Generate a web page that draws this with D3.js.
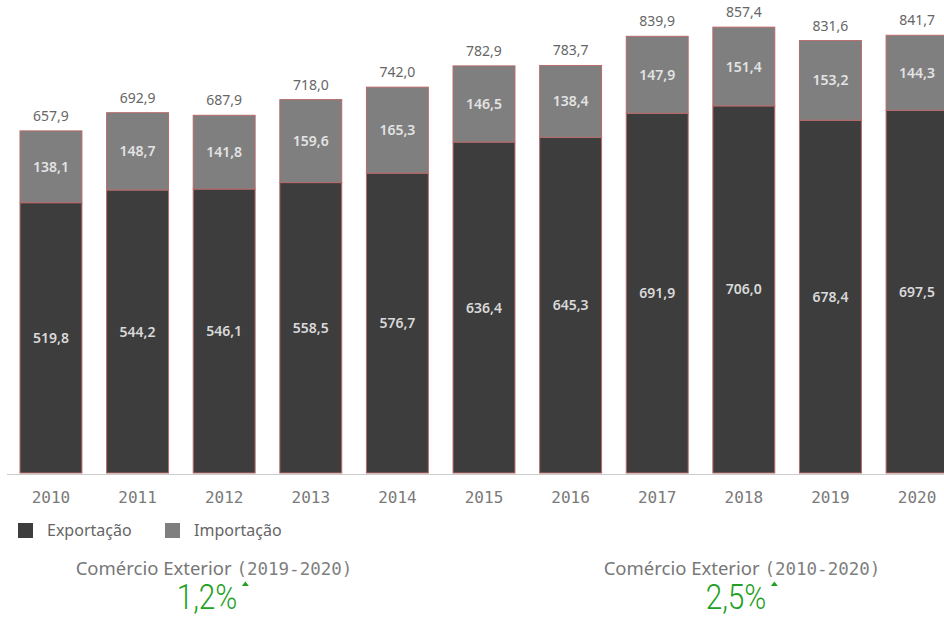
<!DOCTYPE html>
<html>
<head>
<meta charset="utf-8">
<script src="https://cdn.jsdelivr.net/npm/d3@7"></script>
<style>
  body { margin: 0; background: #fff; }
  svg { display: block; font-family: "Noto Sans", sans-serif; }
</style>
</head>
<body>
<svg id="chart" width="944" height="618"></svg>
<script>
// data
var years = ["2010", "2011", "2012", "2013", "2014", "2015", "2016", "2017", "2018", "2019", "2020"];
var exportacao = [519.8, 544.2, 546.1, 558.5, 576.7, 636.4, 645.3, 691.9, 706.0, 678.4, 697.5];
var importacao = [138.1, 148.7, 141.8, 159.6, 165.3, 146.5, 138.4, 147.9, 151.4, 153.2, 144.3];
var totals = [657.9, 692.9, 687.9, 718.0, 742.0, 782.9, 783.7, 839.9, 857.4, 831.6, 841.7];
var seriesNames = ["Exportação", "Importação"];
var seriesColors = ["#3d3d3d", "#7f7f7f"];
var kpiTitles = ["Comércio Exterior", "Comércio Exterior"];
var kpiPeriods = ["(2019-2020)", "(2010-2020)"];
var kpiValues = ["1,2%", "2,5%"];

var fmt = function(v) { return d3.format(".1f")(v).replace(".", ","); };
var mono = "'DejaVu Sans Mono', monospace";

var svg = d3.select("#chart");

var x = d3.scaleBand()
	.domain(years)
	.range([7, 961])
	.paddingInner(0.285)
	.paddingOuter(0.15);

var y = d3.scaleLinear()
	.domain([0, 900])
	.range([473, 5]);

var rows = years.map(function(yr, i) {
	return { year: yr, exp: exportacao[i], imp: importacao[i], total: totals[i] };
});

var g = svg.append("g");

// export segments
g.selectAll(".exp")
	.data(rows)
	.enter().append("rect")
	.attr("class", "exp")
	.attr("x", function(d) { return x(d.year); })
	.attr("width", x.bandwidth())
	.attr("y", function(d) { return y(d.exp); })
	.attr("height", function(d) { return y(0) - y(d.exp); })
	.attr("fill", seriesColors[0])
	.attr("stroke", "#b86a6a")
	.attr("stroke-width", 1);

// import segments
g.selectAll(".imp")
	.data(rows)
	.enter().append("rect")
	.attr("class", "imp")
	.attr("x", function(d) { return x(d.year); })
	.attr("width", x.bandwidth())
	.attr("y", function(d) { return y(d.exp + d.imp); })
	.attr("height", function(d) { return y(d.exp) - y(d.exp + d.imp); })
	.attr("fill", seriesColors[1])
	.attr("stroke", "#b86a6a")
	.attr("stroke-width", 1);

// labels inside
g.selectAll(".expLabel")
	.data(rows)
	.enter().append("text")
	.attr("x", function(d) { return x(d.year) + x.bandwidth() / 2; })
	.attr("y", function(d) { return (y(0) + y(d.exp)) / 2 + 5; })
	.attr("text-anchor", "middle")
	.attr("fill", "#d9d9d9")
	.attr("font-size", 14)
	.attr("font-weight", 600)
	.text(function(d) { return fmt(d.exp); });

g.selectAll(".impLabel")
	.data(rows)
	.enter().append("text")
	.attr("x", function(d) { return x(d.year) + x.bandwidth() / 2; })
	.attr("y", function(d) { return (y(d.exp) + y(d.exp + d.imp)) / 2 + 5; })
	.attr("text-anchor", "middle")
	.attr("fill", "#e3e3e3")
	.attr("font-size", 14)
	.attr("font-weight", 600)
	.text(function(d) { return fmt(d.imp); });

g.selectAll(".totLabel")
	.data(rows)
	.enter().append("text")
	.attr("x", function(d) { return x(d.year) + x.bandwidth() / 2; })
	.attr("y", function(d) { return y(d.total) - 10; })
	.attr("text-anchor", "middle")
	.attr("fill", "#666")
	.attr("font-size", 14)
	.text(function(d) { return fmt(d.total); });

// x axis
var xAxis = svg.append("g")
	.attr("transform", "translate(0," + 474 + ")")
	.call(d3.axisBottom(x).tickSize(0).tickPadding(18));
xAxis.select(".domain").attr("stroke", "#cccccc").attr("d", "M7,0.5H944");
xAxis.selectAll("text")
	.attr("fill", "#7a7a7a")
	.attr("font-size", 16)
	.attr("font-family", mono);

// legend
var legX = [18, 165];
seriesNames.forEach(function(name, i) {
	var item = svg.append("g").attr("transform", "translate(" + legX[i] + ",523)");
	item.append("rect").attr("width", 15).attr("height", 15).attr("fill", seriesColors[i]);
	item.append("text")
		.attr("x", 29).attr("y", 13)
		.attr("fill", "#666")
		.attr("font-size", 16)
		.text(name);
});

// KPIs
var kpiCenters = [214, 742];
var valueCenters = [207, 736];
kpiTitles.forEach(function(t, i) {
	var title = svg.append("text")
		.attr("x", kpiCenters[i])
		.attr("y", 575)
		.attr("text-anchor", "middle")
		.attr("fill", "#777")
		.attr("font-size", 18.5);
	title.append("tspan").text(t + " ");
	title.append("tspan").attr("font-family", mono).attr("font-size", 17.5).attr("fill", "#7f7f7f").text(kpiPeriods[i]);

	var v = svg.append("text")
		.attr("transform", "translate(" + valueCenters[i] + ",609) scale(0.85,1)")
		.attr("text-anchor", "middle")
		.attr("fill", "#22a022")
		.attr("font-family", "Roboto, sans-serif")
		.attr("font-weight", 300)
		.attr("font-size", 35)
		.text(kpiValues[i]);
	var w = v.node().getComputedTextLength() * 0.85;
	var cx = valueCenters[i] + w / 2 + 8;
	svg.append("path")
		.attr("d", "M" + (cx - 3.5) + ",586 L" + (cx + 3.5) + ",586 L" + cx + ",581.5 Z")
		.attr("fill", "#22a022");
});
</script>
</body>
</html>
